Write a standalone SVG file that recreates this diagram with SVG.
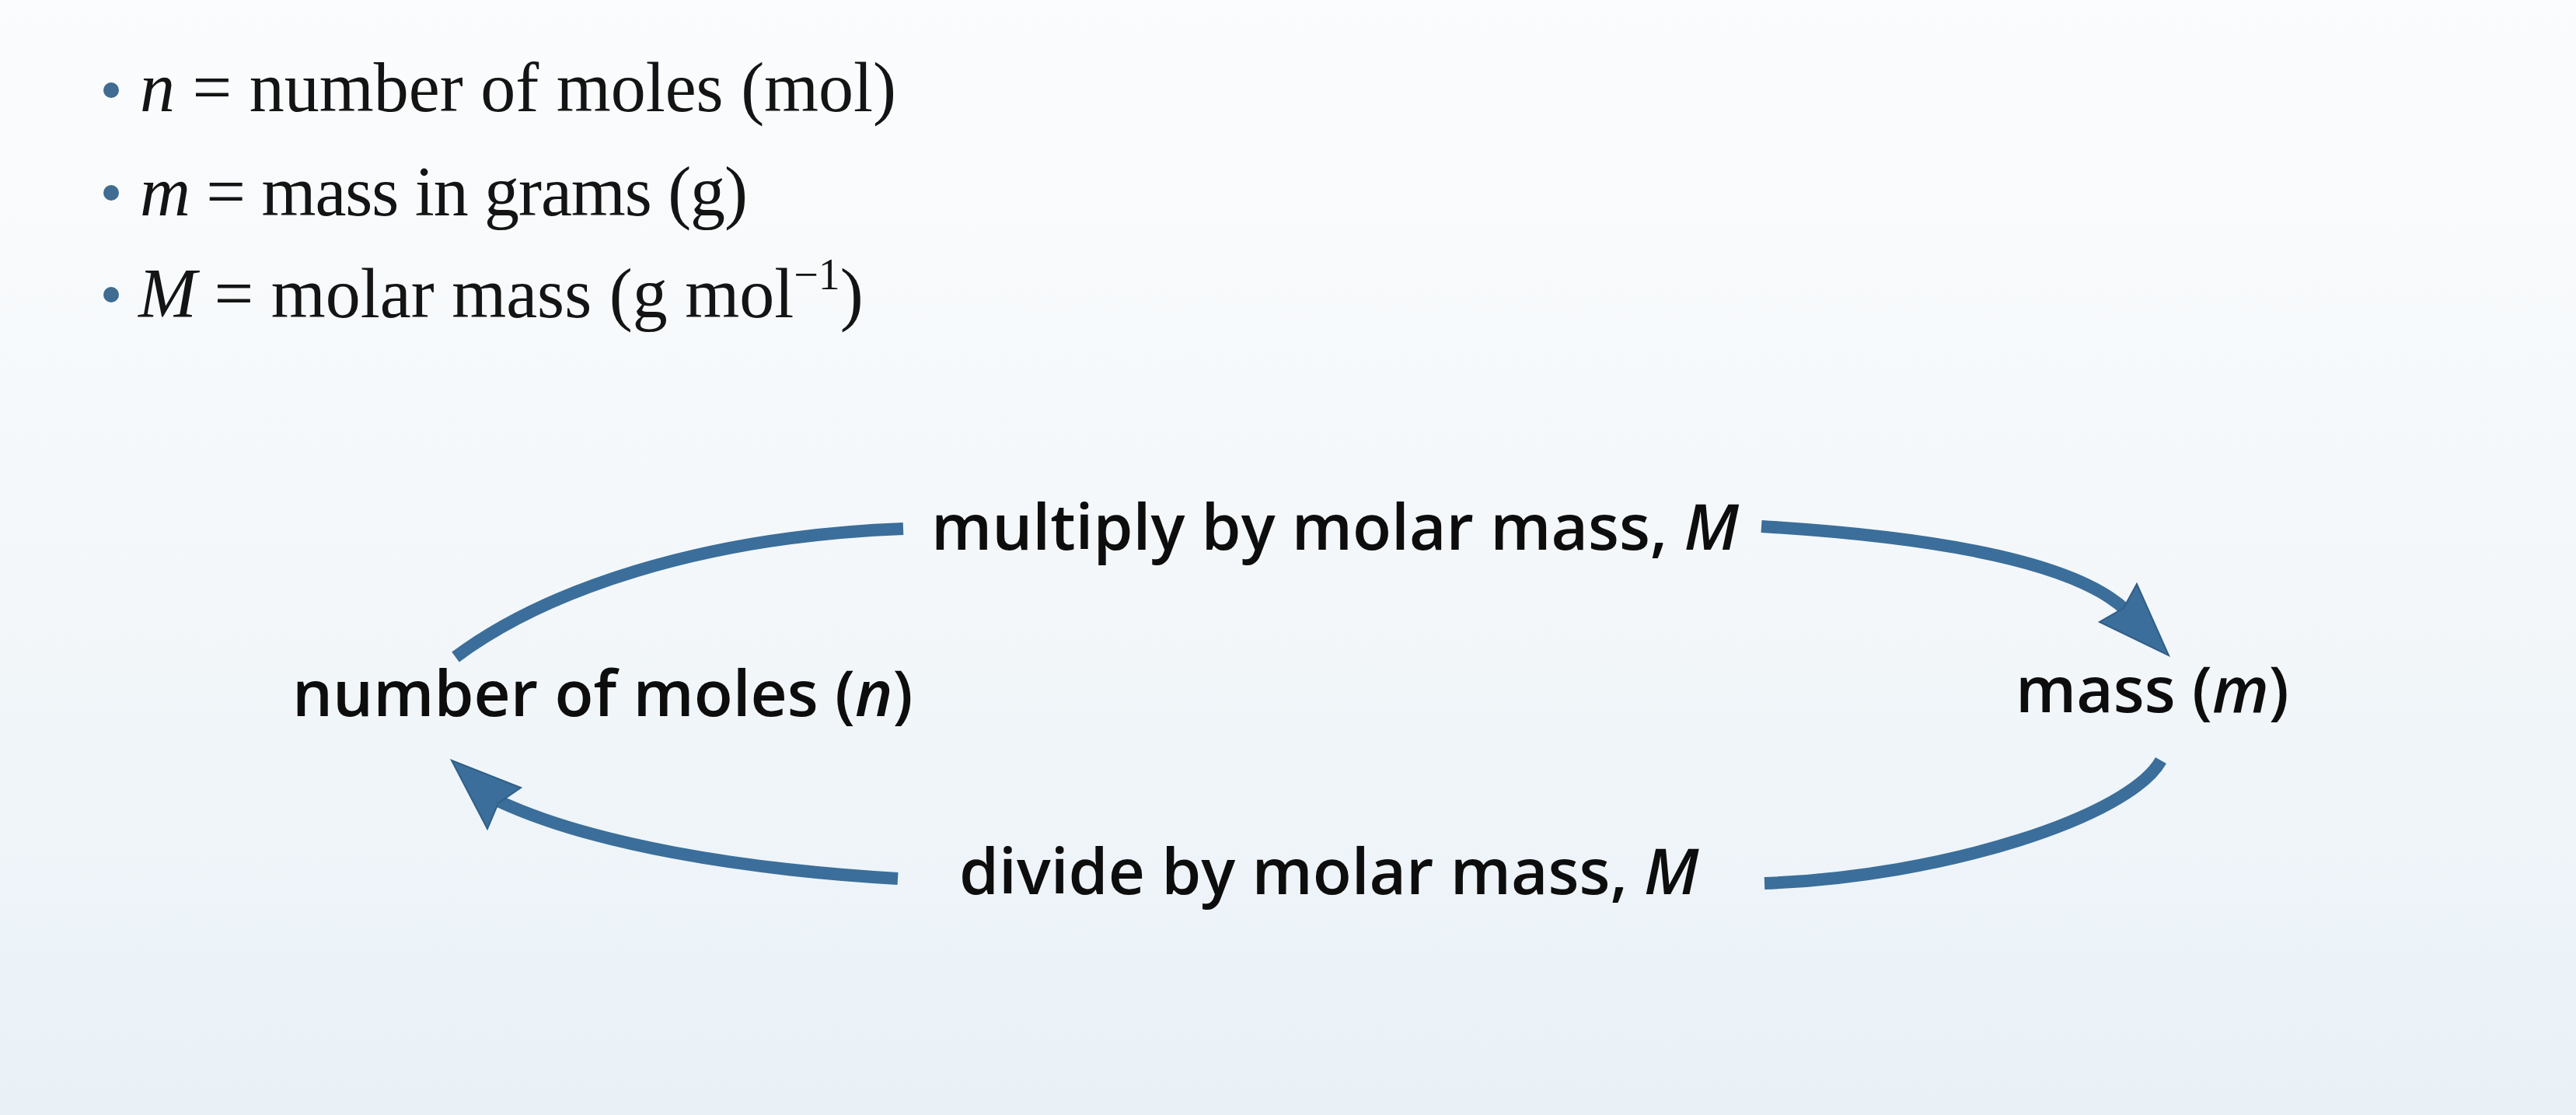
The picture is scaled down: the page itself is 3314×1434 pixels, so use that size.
<svg xmlns="http://www.w3.org/2000/svg" width="3314" height="1434" viewBox="0 0 3314 1434">
<defs>
<linearGradient id="bg" x1="0" y1="0" x2="0" y2="1">
<stop offset="0" stop-color="#fbfcfd"/>
<stop offset="0.55" stop-color="#f3f7fa"/>
<stop offset="1" stop-color="#e9f1f7"/>
</linearGradient>
<style>
.serif{font-family:"Liberation Serif","Times New Roman",serif;font-size:90px;fill:#141414}
.sans{font-family:"Open Sans","Noto Sans","Liberation Sans",sans-serif;font-weight:600;font-size:82px;fill:#0d0d0d}
.it{font-style:italic}
.shaft{fill:none;stroke:#3b6e9a;stroke-width:16;stroke-linecap:butt}
.head{fill:#3b6e9a;stroke:#2f5f88;stroke-width:2;stroke-linejoin:miter}
.dot{fill:#3f6c90}
</style>
</defs>
<rect x="0" y="0" width="3314" height="1434" fill="url(#bg)"/>

<g id="legend">
<circle class="dot" cx="143" cy="116" r="10"/>
<text class="serif" x="180" y="143"><tspan class="it">n</tspan> = number of moles (mol)</text>
<circle class="dot" cx="143" cy="248" r="10"/>
<text class="serif" x="180" y="277" textLength="782" lengthAdjust="spacing"><tspan class="it">m</tspan> = mass in grams (g)</text>
<circle class="dot" cx="143" cy="379" r="10"/>
<text class="serif" x="178" y="408"><tspan class="it">M</tspan> = molar mass (g mol<tspan font-size="56" dy="-36">−1</tspan><tspan dy="36">)</tspan></text>
</g>

<g id="node-moles">
<text class="sans" x="376" y="921">number of moles (<tspan class="it">n</tspan>)</text>
</g>

<g id="node-mass">
<text class="sans" x="2593" y="916">mass (<tspan class="it">m</tspan>)</text>
</g>

<g id="connectors">
<g id="edge-multiply">
<path class="shaft" d="M 586 845 C 700 760, 900 690, 1162 680"/>
<path class="shaft" d="M 2266 677 C 2450 688, 2660 715, 2734 784"/>
<polygon class="head" points="2790,843 2749,751 2732,782 2701,800"/>
<text class="sans" x="1198" y="707">multiply by molar mass, <tspan class="it">M</tspan></text>
</g>
<g id="edge-divide">
<path class="shaft" d="M 2780 978 C 2740 1050, 2500 1128, 2270 1136"/>
<path class="shaft" d="M 1155 1130 C 950 1118, 760 1085, 643 1031"/>
<polygon class="head" points="581,978 670,1013 641,1033 627,1066"/>
<text class="sans" x="1234" y="1150">divide by molar mass, <tspan class="it">M</tspan></text>
</g>
</g>
</svg>
